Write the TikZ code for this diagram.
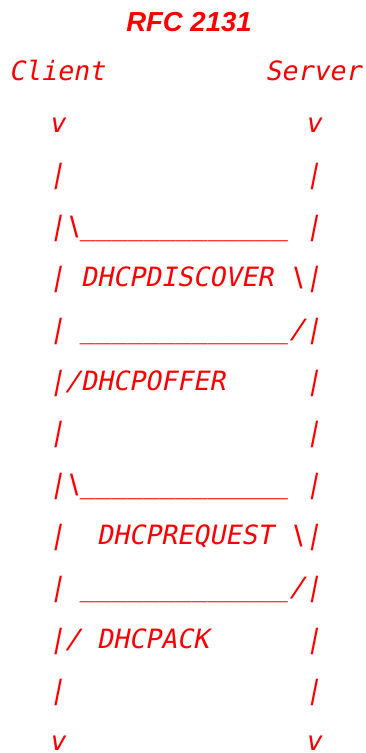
\documentclass[tikz,border=0pt]{standalone}
\usepackage{fontspec}
\newfontfamily\asciifont[FakeSlant=0.2]{DejaVu Sans Mono}
\newfontfamily\headfont{Liberation Sans}
\definecolor{ink}{RGB}{255,0,0}
\begin{document}
\begin{tikzpicture}[x=1bp,y=1bp,
  asciiline/.style={text=ink, inner sep=0pt, anchor=base,
    font=\asciifont\fontsize{26.6bp}{30bp}\selectfont},
  headline/.style={text=ink, inner sep=0pt, anchor=base,
    font=\headfont\bfseries\itshape\fontsize{27.5bp}{31bp}\selectfont}]
\useasboundingbox (0,0) rectangle (365,753);
% heading
\node[headline] (title) at (189,721) {RFC 2131};
% ASCII message-sequence chart, one node per text line
\node[asciiline] (peers)   at (185,672.4) {Client~~~~~~~~~~Server};
\node[asciiline] (tipsup)  at (185,620.8) {v~~~~~~~~~~~~~~~v};
\node[asciiline] (rails1)  at (185,569.2) {|~~~~~~~~~~~~~~~|};
\node[asciiline] (discA)   at (185,517.6) {|\textbackslash\_\_\_\_\_\_\_\_\_\_\_\_\_~|};
\node[asciiline] (discB)   at (185,466.0) {|~DHCPDISCOVER~\textbackslash|};
\node[asciiline] (offerA)  at (185,414.4) {|~\_\_\_\_\_\_\_\_\_\_\_\_\_/|};
\node[asciiline] (offerB)  at (185,362.8) {|/DHCPOFFER~~~~~|};
\node[asciiline] (rails2)  at (185,311.2) {|~~~~~~~~~~~~~~~|};
\node[asciiline] (reqA)    at (185,259.6) {|\textbackslash\_\_\_\_\_\_\_\_\_\_\_\_\_~|};
\node[asciiline] (reqB)    at (185,208.0) {|~~DHCPREQUEST~\textbackslash|};
\node[asciiline] (ackA)    at (185,156.4) {|~\_\_\_\_\_\_\_\_\_\_\_\_\_/|};
\node[asciiline] (ackB)    at (185,104.8) {|/~DHCPACK~~~~~~|};
\node[asciiline] (rails3)  at (185,53.2)  {|~~~~~~~~~~~~~~~|};
\node[asciiline] (tipsdn)  at (185,2.6)   {v~~~~~~~~~~~~~~~v};
\end{tikzpicture}
\end{document}
